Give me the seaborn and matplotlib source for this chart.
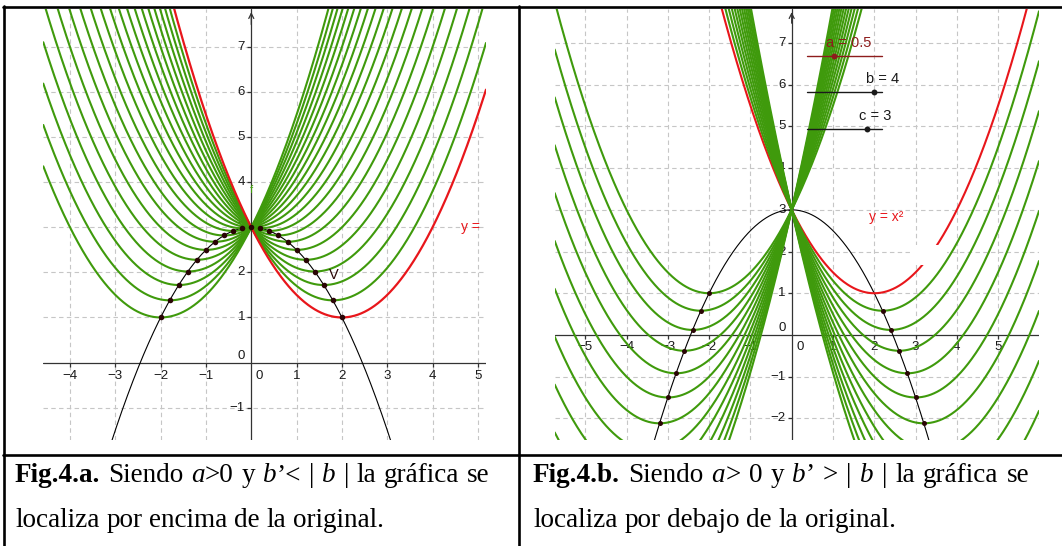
import numpy as np
import pandas as pd
import seaborn as sns
import matplotlib.pyplot as plt
from matplotlib.lines import Line2D
from matplotlib.patches import Rectangle

# parabola y = a*x^2 + b*x + c
a_coef = 0.5
c_coef = 3.0
b_orig = -2.0   # red curve, vertex (2, 1)

# b' values of the green family, panel a (|b'| <= |b|)
b_panel_a = [-1.8, -1.6, -1.4, -1.2, -1.0, -0.8, -0.6, -0.4, -0.2, 0.0,
             0.2, 0.4, 0.6, 0.8, 1.0, 1.2, 1.4, 1.6, 1.8, 2.0]
# b' values of the green family, panel b (|b'| > |b|)
b_panel_b = [2.0, 2.2, 2.4, 2.6, 2.8, 3.0, 3.2, 3.4, 3.6, 3.8, 4.0, 4.2, 4.4,
             -2.2, -2.4, -2.6, -2.8, -3.0, -3.2, -3.4, -3.6, -3.8, -4.0, -4.2, -4.4]

xticks_a = [-4, -3, -2, -1, 1, 2, 3, 4, 5]
yticks_a = [-1, 1, 2, 3, 4, 5, 6, 7]
xticks_b = [-5, -4, -3, -2, -1, 1, 2, 3, 4, 5]
yticks_b = [-2, -1, 1, 2, 3, 4, 5, 6, 7]

slider_labels = ["a = 0.5", "b = 4", "c = 3"]

B, I, N = dict(weight='bold'), dict(style='italic'), dict()
caption_a1 = [[("Fig.4.a.", B)], [("Siendo", N)], [("a", I), (">0", N)], [("y", N)],
              [("b", I), ("’<", N)], [("|", N)], [("b", I)], [("|", N)], [("la", N)],
              [("gráfica", N)], [("se", N)]]
caption_a2 = "localiza por encima de la original."
caption_b1 = [[("Fig.4.b.", B)], [("Siendo", N)], [("a", I), (">", N)], [("0", N)], [("y", N)],
              [("b", I), ("’", N)], [(">", N)], [("|", N)], [("b", I)], [("|", N)], [("la", N)],
              [("gráfica", N)], [("se", N)]]
caption_b2 = "localiza por debajo de la original."

GREEN = "#3f9a0c"
RED = "#e8161b"
DOT = "#2a0505"
GRID = "#c6c6c6"
AXIS = "#333333"
CAP_SIZE = 19.5

W, H = 1062, 546

sns.set_theme(style="white")
plt.rcParams['font.family'] = ['Liberation Sans', 'DejaVu Sans']


def family_df(bs, xs):
    rows = []
    for b in bs:
        rows.append(pd.DataFrame({'x': xs, 'y': a_coef * xs**2 + b * xs + c_coef, 'b': b}))
    return pd.concat(rows, ignore_index=True)


def px_axes(left, top, right, bottom):
    return fig.add_axes([left / W, 1 - bottom / H, (right - left) / W, (bottom - top) / H])


def draw_base(ax, xlim, ylim, xt, yt, xoff, yoff):
    ax.set_xlim(*xlim)
    ax.set_ylim(*ylim)
    ax.axis('off')
    for v in range(int(np.ceil(xlim[0])), int(np.floor(xlim[1])) + 1):
        if v != 0:
            ax.axvline(v, color=GRID, lw=0.8, ls=(0, (4, 3)), zorder=0.5)
    for v in range(int(np.ceil(ylim[0])), int(np.floor(ylim[1])) + 1):
        if v != 0:
            ax.axhline(v, color=GRID, lw=0.8, ls=(0, (4, 3)), zorder=0.5)
    ax.axhline(0, color=AXIS, lw=0.9, zorder=1)
    ax.axvline(0, color=AXIS, lw=0.9, zorder=1)
    ax.annotate('', xy=(0, ylim[1]), xytext=(0, ylim[1] - 0.4),
                arrowprops=dict(arrowstyle='->', lw=0.9, color=AXIS, mutation_scale=9), zorder=1)
    ax.plot(xt, [0] * len(xt), ls='none', marker=3, ms=3, mew=0.9, color=AXIS, zorder=1)
    ax.plot([0] * len(yt), yt, ls='none', marker=0, ms=3, mew=0.9, color=AXIS, zorder=1)
    for v in xt:
        ax.annotate(str(v).replace('-', '−'), (v, 0), xytext=(0, xoff), textcoords='offset points',
                    ha='center', va='center', fontsize=9.5, color='#1a1a1a', zorder=1.5)
    ax.annotate('0', (0, 0), xytext=(6, xoff), textcoords='offset points',
                ha='center', va='center', fontsize=9.5, color='#1a1a1a', zorder=1.5)
    for v in yt:
        ax.annotate(str(v).replace('-', '−'), (0, v), xytext=(yoff, 0), textcoords='offset points',
                    ha='right', va='center', fontsize=9.5, color='#1a1a1a', zorder=1.5)
    ax.annotate('0', (0, 0), xytext=(yoff, 5), textcoords='offset points',
                ha='right', va='center', fontsize=9.5, color='#1a1a1a', zorder=1.5)


def text_width(s, style):
    t = fig.text(0, 0, s, fontsize=CAP_SIZE, family='Liberation Serif', **style)
    w = t.get_window_extent(renderer=renderer).width
    t.remove()
    return w


def draw_caption(x0, yb, words, target=None):
    widths = [sum(text_width(s, st) for s, st in w) for w in words]
    space = text_width("x x", N) - text_width("xx", N)
    if target is not None:
        space = (target - sum(widths)) / (len(words) - 1)
    x = x0
    for w, ww in zip(words, widths):
        xx = x
        for s, st in w:
            fig.text(xx / W, 1 - yb / H, s, fontsize=CAP_SIZE, family='Liberation Serif',
                     va='baseline', color='black', **st)
            xx += text_width(s, st)
        x += ww + space


fig = plt.figure(figsize=(W / 100, H / 100), dpi=100)
renderer = fig.canvas.get_renderer()

# ---------------- panel a ----------------
ax_a = px_axes(43.3, 9.3, 486, 440)
xlim_a, ylim_a = (-4.59, 5.18), (-1.72, 7.84)
draw_base(ax_a, xlim_a, ylim_a, xticks_a, yticks_a, -9.6, -4.5)
xs_a = np.linspace(*xlim_a, 800)
sns.lineplot(data=family_df(b_panel_a, xs_a), x='x', y='y', units='b', estimator=None,
             color=GREEN, lw=1.5, ax=ax_a, zorder=3, legend=False)
ax_a.plot(xs_a, a_coef * xs_a**2 + b_orig * xs_a + c_coef, color=RED, lw=1.6, zorder=3.5)
ax_a.plot(xs_a, c_coef - a_coef * xs_a**2, color='black', lw=0.8, zorder=2)
bv_a = np.array(b_panel_a + [b_orig])
ax_a.scatter(-bv_a / (2 * a_coef), c_coef - bv_a**2 / (4 * a_coef), s=16, color=DOT, zorder=5, lw=0)
ax_a.text(4.62, 3.0, "y =", color=RED, fontsize=10, va='center', ha='left', zorder=4)
ax_a.text(1.82, 1.95, "V", color=DOT, fontsize=10.5, va='center', ha='center', zorder=4)
ax_a.text(0.0, 3.83, "f", color=GREEN, fontsize=8, va='center', ha='center', zorder=1.2)
ax_a.set_xlabel('')
ax_a.set_ylabel('')

# ---------------- panel b ----------------
ax_b = px_axes(554.7, 9.3, 1039, 440)
xlim_b, ylim_b = (-5.74, 5.99), (-2.52, 7.81)
draw_base(ax_b, xlim_b, ylim_b, xticks_b, yticks_b, -8.4, -4.5)
xs_b = np.linspace(*xlim_b, 800)
ax_b.plot(xs_b, c_coef - a_coef * xs_b**2, color='black', lw=0.8, zorder=2)
ax_b.plot(xs_b, a_coef * xs_b**2 + b_orig * xs_b + c_coef, color=RED, lw=1.5, zorder=2.5)
ax_b.add_patch(Rectangle((2.87, 1.68), 0.9, 0.48, color='white', zorder=2.7, lw=0))
sns.lineplot(data=family_df(b_panel_b, xs_b), x='x', y='y', units='b', estimator=None,
             color=GREEN, lw=1.5, ax=ax_b, zorder=3, legend=False)
bv_b = np.array(b_panel_b)
ax_b.scatter(-bv_b / (2 * a_coef), c_coef - bv_b**2 / (4 * a_coef), s=13, color=DOT, zorder=5, lw=0)
ax_b.text(1.88, 2.84, "y = x²", color=RED, fontsize=10, va='center', ha='left', zorder=4)
slider_y = [6.70, 5.82, 4.94]
label_pos = [(1.39, 7.0), (2.21, 6.14), (2.03, 5.26)]
dot_x = [1.02, 2.0, 1.83]
slider_col = ["#8e1c1c", "#1a1a1a", "#1a1a1a"]
for lab, yy, (lx, ly), dx, col in zip(slider_labels, slider_y, label_pos, dot_x, slider_col):
    ax_b.plot([0.38, 2.18], [yy, yy], color=col, lw=1.0, zorder=4)
    ax_b.scatter([dx], [yy], s=18, color=col, zorder=6, lw=0)
    ax_b.text(lx, ly, lab, color=col, fontsize=10.5, ha='center', va='center', zorder=4)
ax_b.set_xlabel('')
ax_b.set_ylabel('')

# ---------------- table ----------------
for (x0, y0, x1, y1) in [(3, 7.3, 1062, 7.3), (4.3, 6, 4.3, 546), (519, 6, 519, 546),
                         (3, 455, 1062, 455)]:
    fig.add_artist(Line2D([x0 / W, x1 / W], [1 - y0 / H, 1 - y1 / H], transform=fig.transFigure,
                          color='black', lw=1.9))

draw_caption(15, 482, caption_a1, target=475)
draw_caption(533, 482, caption_b1, target=496)
draw_caption(15, 527, [[(w, N)] for w in caption_a2.split(' ')])
draw_caption(533, 527, [[(w, N)] for w in caption_b2.split(' ')])

fig.savefig("out.png", dpi=100)
